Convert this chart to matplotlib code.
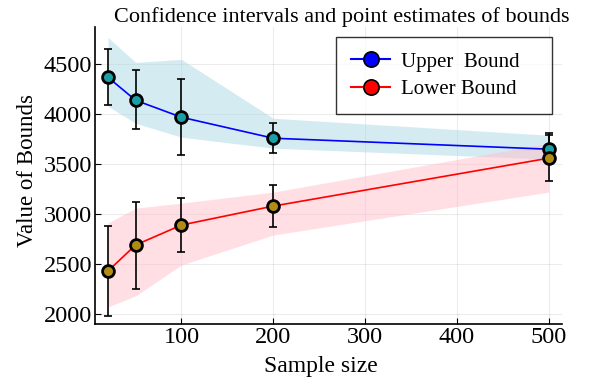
import matplotlib
matplotlib.use("Agg")
import matplotlib.pyplot as plt
import numpy as np

plt.rcParams['font.family'] = ['Liberation Serif', 'DejaVu Serif']

sample_size = [20, 50, 100, 200, 500]

# upper bound: point estimate, error bar ends, shaded band
upper_est = [4370, 4140, 3970, 3760, 3650]
upper_err_hi = [4650, 4440, 4350, 3910, 3790]
upper_err_lo = [4090, 3850, 3590, 3610, 3510]
upper_band_hi = [4770, 4520, 4550, 3960, 3790]
upper_band_lo = [4080, 3910, 3770, 3660, 3550]

# lower bound
lower_est = [2430, 2690, 2890, 3080, 3560]
lower_err_hi = [2880, 3120, 3160, 3290, 3810]
lower_err_lo = [1980, 2250, 2620, 2870, 3330]
lower_band_hi = [2910, 3060, 3110, 3220, 3710]
lower_band_lo = [2070, 2180, 2490, 2790, 3220]

fig = plt.figure(figsize=(5.89, 3.81), dpi=100)
ax = fig.add_axes([0.161, 0.150, 0.793, 0.778])

x = np.array(sample_size)

ax.fill_between(x, upper_band_lo, upper_band_hi, color='lightblue', alpha=0.5, lw=0, zorder=1)
ax.fill_between(x, lower_band_lo, lower_band_hi, color='pink', alpha=0.5, lw=0, zorder=1)

ue = np.array(upper_est)
le = np.array(lower_est)
ax.errorbar(x, ue, yerr=[ue - np.array(upper_err_lo), np.array(upper_err_hi) - ue],
            fmt='none', ecolor='black', elinewidth=1.2, capsize=3, capthick=1.2, zorder=2)
ax.errorbar(x, le, yerr=[le - np.array(lower_err_lo), np.array(lower_err_hi) - le],
            fmt='none', ecolor='black', elinewidth=1.2, capsize=3, capthick=1.2, zorder=2)

ax.plot(x, ue, color='blue', lw=1.2, zorder=3)
ax.plot(x, le, color='red', lw=1.2, zorder=3)
ax.plot(x, ue, 'o', ms=8.5, mfc='#1a9fa6', mec='black', mew=2.0, zorder=4)
ax.plot(x, le, 'o', ms=8.5, mfc='#b08c14', mec='black', mew=2.0, zorder=4)

# legend handles
ax.plot([], [], '-o', color='blue', ms=11, mfc='blue', mec='black', mew=1.2, label='Upper  Bound')
ax.plot([], [], '-o', color='red', ms=11, mfc='red', mec='black', mew=1.2, label='Lower Bound')
leg = ax.legend(loc='upper right', bbox_to_anchor=(0.516, 0.5, 0.463, 0.468), mode='expand',
                fontsize=15, frameon=True, fancybox=False, edgecolor='black',
                borderpad=0.72, handlelength=1.9, handletextpad=0.5,
                labelspacing=0.4, borderaxespad=0)
leg.get_frame().set_linewidth(1.0)

ax.set_xlim(5.6, 514.4)
ax.set_ylim(1900, 4870)
ax.set_xticks([100, 200, 300, 400, 500])
ax.set_yticks([2000, 2500, 3000, 3500, 4000, 4500])
ax.tick_params(direction='in', labelsize=17.5, length=4, width=0.8, pad=2)
ax.grid(True, color='black', alpha=0.08, lw=0.8)
ax.set_axisbelow(True)
for s in ['top', 'right']:
    ax.spines[s].set_visible(False)
for s in ['left', 'bottom']:
    ax.spines[s].set_linewidth(1.2)

ax.set_title("Confidence intervals and point estimates of bounds", fontsize=16, pad=4, x=0.529)
ax.set_xlabel("Sample size", fontsize=17, labelpad=6, x=0.484)
ax.set_ylabel("Value of Bounds", fontsize=16.5, labelpad=4, y=0.516)

fig.savefig("out.png", dpi=100)
